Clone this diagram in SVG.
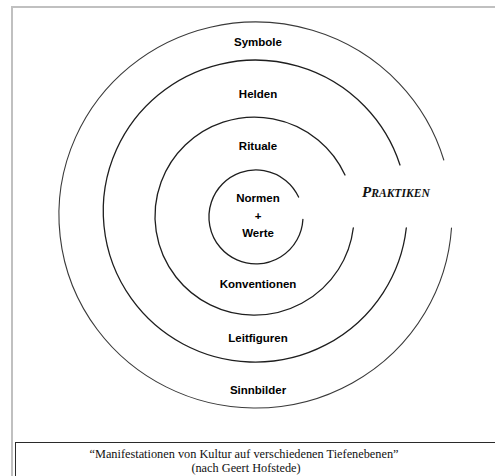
<svg xmlns="http://www.w3.org/2000/svg" width="495" height="476" viewBox="0 0 495 476">
  <style>
    .ring { fill: none; stroke: #1e1e1e; stroke-width: 1.3; stroke-linecap: round; }
    .outer { stroke: #3a3a3a; stroke-width: 1.1; }
    .lbl { font-family: "Liberation Sans", Arial, sans-serif; font-weight: bold; font-size: 11.5px; fill: #000; text-anchor: middle; }
    .cap { font-family: "Liberation Serif", "Times New Roman", serif; font-size: 12.3px; fill: #111; text-anchor: middle; }
    .prak { font-family: "Liberation Serif", "Times New Roman", serif; font-weight: bold; font-style: italic; fill: #111; }
  </style>
  <rect x="0" y="0" width="495" height="476" fill="#ffffff"/>
  <!-- gray frame -->
  <path d="M 12 476 L 12 7 L 495 7" fill="none" stroke="#c0c0c0" stroke-width="2"/>

  <g id="symbole">
    <path class="ring outer" d="M 451.5 228 A 196.5 193 0 1 1 443.8 160"/>
    <text class="lbl" x="258" y="46">Symbole</text>
    <text class="lbl" x="258" y="394">Sinnbilder</text>
  </g>
  <g id="helden">
    <path class="ring" d="M 406.3 228 A 152 151 0 1 1 400 165"/>
    <text class="lbl" x="258" y="98">Helden</text>
    <text class="lbl" x="258" y="342">Leitfiguren</text>
  </g>
  <g id="rituale">
    <path class="ring" d="M 353.3 228 A 99.5 99 0 1 1 345 175"/>
    <text class="lbl" x="258" y="150">Rituale</text>
    <text class="lbl" x="258" y="288">Konventionen</text>
  </g>
  <g id="werte">
    <path class="ring" d="M 302.9 219.5 A 47 47 0 1 1 298.6 197.1"/>
    <text class="lbl" x="258" y="202">Normen</text>
    <text class="lbl" x="258" y="220" font-size="9">+</text>
    <text class="lbl" x="258" y="237">Werte</text>
  </g>
  <g id="praktiken">
    <text class="prak" x="362" y="197"><tspan font-size="15">P</tspan><tspan font-size="11.6">RAKTIKEN</tspan></text>
  </g>

  <g id="caption">
    <rect x="15.5" y="442.5" width="490" height="50" fill="#ffffff" stroke="#2a2a2a" stroke-width="1"/>
    <text class="cap" x="244" y="458">“Manifestationen von Kultur auf verschiedenen Tiefenebenen”</text>
    <text class="cap" x="246" y="472">(nach Geert Hofstede)</text>
  </g>
</svg>
